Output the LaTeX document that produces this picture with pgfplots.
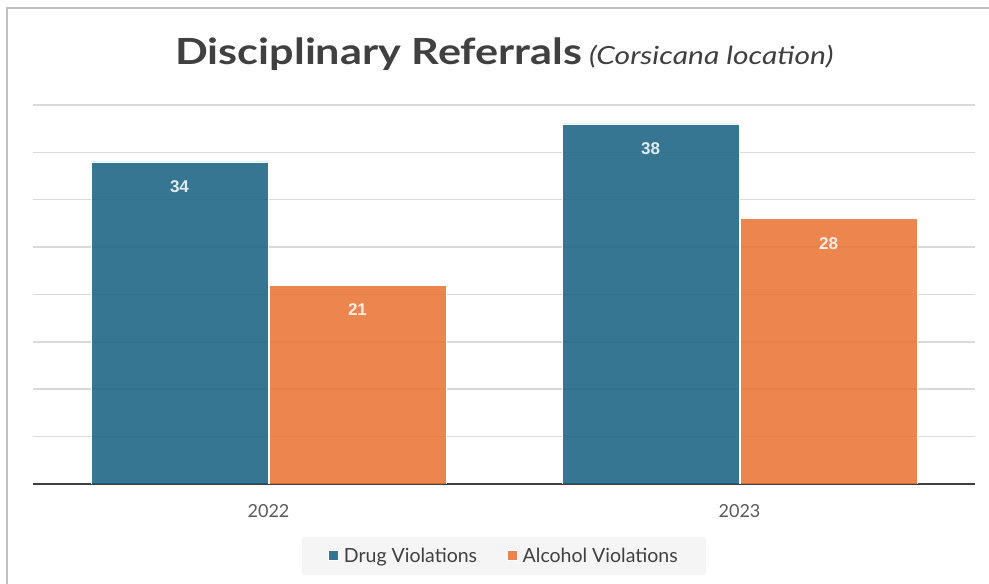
\documentclass[border=0pt]{standalone}
\usepackage{fontspec}
\setmainfont{Lato}
\newfontfamily\labelfont{Liberation Sans}
\newfontfamily\titlefont{Lato}[FakeStretch=1.2]
\usepackage{pgfplots}
\pgfplotsset{compat=1.18}
\definecolor{drug}{HTML}{156082}
\definecolor{alc}{HTML}{E97132}
\definecolor{gridc}{HTML}{D9D9D9}
\definecolor{txt}{HTML}{595959}
\definecolor{ttl}{HTML}{404040}
\definecolor{legbg}{HTML}{F5F5F5}
\definecolor{framec}{HTML}{C0C0C0}
\begin{document}
\begin{tikzpicture}[x=1pt,y=1pt]
\useasboundingbox (0,0) rectangle (989,584);
\fill[white] (0,0) rectangle (989,584);
\draw[framec, line width=2.5pt] (7,-10) -- (7,576) -- (1000,576);
\node[anchor=base, text=ttl, inner sep=0pt] at (504.5,519) {{\titlefont\fontsize{36}{40}\selectfont\bfseries Disciplinary Referrals}\hspace{7pt}{\titlefont\fontsize{25}{28}\selectfont\itshape (Corsicana location)}};
\begin{axis}[
  at={(33pt,100pt)}, anchor=south west,
  scale only axis, width=942pt, height=379pt,
  xmin=-0.5, xmax=1.5, ymin=0, ymax=40,
  ybar=1pt, bar width=177pt,
  xtick={0,1}, xticklabels={2022,2023},
  ytick={5,10,...,40}, yticklabels={},
  ymajorgrids, grid style={gridc, line width=1.5pt},
  axis x line*=bottom, axis y line*=left,
  y axis line style={draw=none},
  x axis line style={ttl, line width=2.5pt, -},
  major tick style={draw=none},
  xticklabel style={font=\fontsize{18}{20}\selectfont, text=txt, yshift=-13pt},
  nodes near coords,
  /pgf/number format/assume math mode=true,
  every node near coord/.append style={anchor=center, yshift=-25pt, text=white, font=\labelfont\bfseries\fontsize{17}{20}\selectfont},
  legend columns=2,
  legend style={at={(0.5,-0.189)}, anchor=center, fill=legbg, draw=none,
    font=\fontsize{19.5}{22}\selectfont, text=ttl, inner xsep=26pt, inner ysep=9pt,
    /tikz/every even column/.append style={column sep=28pt}},
  legend image code/.code={\fill[#1] (0pt,-5pt) rectangle (10pt,5pt); \path (13pt,0pt);},
]
\addplot[fill=drug, fill opacity=0.86, draw=white, line width=0.6pt] coordinates {(0,34) (1,38)};
\addplot[fill=alc, fill opacity=0.86, draw=white, line width=0.6pt] coordinates {(0,21) (1,28)};
\legend{Drug Violations, Alcohol Violations}
\end{axis}
\end{tikzpicture}
\end{document}
